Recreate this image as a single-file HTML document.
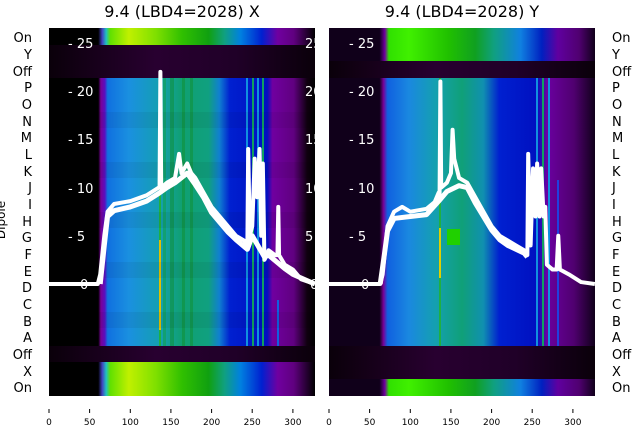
<!DOCTYPE html>
<html><head><style>
html,body{margin:0;padding:0;background:#fff;width:640px;height:440px;overflow:hidden}
svg{font-family:"DejaVu Sans","Liberation Sans",sans-serif}
</style></head><body>
<svg width="640" height="440" viewBox="0 0 640 440" xmlns="http://www.w3.org/2000/svg">
<defs>
<linearGradient id="mainL" x1="0" x2="1">
<stop offset="0" stop-color="#000"/><stop offset="0.185" stop-color="#000"/>
<stop offset="0.195" stop-color="#7a0098"/><stop offset="0.21" stop-color="#5a10c0"/>
<stop offset="0.22" stop-color="#1070e0"/><stop offset="0.3" stop-color="#1a90e0"/>
<stop offset="0.42" stop-color="#14a0b0"/><stop offset="0.5" stop-color="#10a070"/>
<stop offset="0.6" stop-color="#10a080"/><stop offset="0.64" stop-color="#1080d0"/>
<stop offset="0.68" stop-color="#0020d0"/><stop offset="0.82" stop-color="#0010c0"/>
<stop offset="0.84" stop-color="#7000a0"/><stop offset="0.92" stop-color="#600080"/>
<stop offset="0.97" stop-color="#100010"/><stop offset="1" stop-color="#000"/>
</linearGradient>
<linearGradient id="mainR" x1="0" x2="1">
<stop offset="0" stop-color="#10001a"/><stop offset="0.19" stop-color="#10001a"/>
<stop offset="0.205" stop-color="#7a0098"/><stop offset="0.22" stop-color="#1060e0"/>
<stop offset="0.3" stop-color="#1a88e0"/><stop offset="0.4" stop-color="#14a0b0"/>
<stop offset="0.5" stop-color="#10a078"/><stop offset="0.58" stop-color="#1090b0"/>
<stop offset="0.64" stop-color="#0020d0"/><stop offset="0.78" stop-color="#0010c0"/>
<stop offset="0.82" stop-color="#6a00a0"/><stop offset="0.92" stop-color="#500070"/>
<stop offset="1" stop-color="#10001a"/>
</linearGradient>
<linearGradient id="onG" x1="0" x2="1">
<stop offset="0" stop-color="#000"/><stop offset="0.185" stop-color="#000"/>
<stop offset="0.2" stop-color="#4040c0"/><stop offset="0.215" stop-color="#20c0c0"/>
<stop offset="0.23" stop-color="#60e000"/><stop offset="0.3" stop-color="#c0f000"/>
<stop offset="0.4" stop-color="#80e000"/><stop offset="0.5" stop-color="#30c000"/>
<stop offset="0.6" stop-color="#10a010"/><stop offset="0.66" stop-color="#10a080"/>
<stop offset="0.72" stop-color="#0080e0"/><stop offset="0.8" stop-color="#0020d0"/>
<stop offset="0.86" stop-color="#7000a0"/><stop offset="0.92" stop-color="#600080"/>
<stop offset="1" stop-color="#000"/>
</linearGradient>
<linearGradient id="onR" x1="0" x2="1">
<stop offset="0" stop-color="#10001a"/><stop offset="0.19" stop-color="#10001a"/>
<stop offset="0.21" stop-color="#7000a0"/><stop offset="0.225" stop-color="#30e000"/>
<stop offset="0.3" stop-color="#40f000"/><stop offset="0.45" stop-color="#20c000"/>
<stop offset="0.55" stop-color="#10a020"/><stop offset="0.62" stop-color="#10a080"/>
<stop offset="0.72" stop-color="#1080e0"/><stop offset="0.8" stop-color="#0020c0"/>
<stop offset="0.86" stop-color="#6000a0"/><stop offset="0.94" stop-color="#500070"/>
<stop offset="1" stop-color="#10001a"/>
</linearGradient>
<linearGradient id="offG" x1="0" x2="1">
<stop offset="0" stop-color="#0a000a"/><stop offset="0.4" stop-color="#280030"/>
<stop offset="0.7" stop-color="#200028"/><stop offset="1" stop-color="#0a000a"/>
</linearGradient>
<clipPath id="cL"><rect x="49" y="28" width="266" height="368"/></clipPath>
<clipPath id="cR"><rect x="329" y="28" width="266" height="368"/></clipPath>
</defs>

<g clip-path="url(#cL)">
<rect x="49" y="28" width="266" height="368" fill="#000"/>
<rect x="49" y="28" width="266" height="17" fill="url(#onG)"/>
<rect x="49" y="45" width="266" height="33" fill="url(#offG)"/>
<rect x="49" y="78" width="266" height="268" fill="url(#mainL)"/>
<rect x="49" y="346" width="266" height="16" fill="url(#offG)"/>
<rect x="49" y="362" width="266" height="34" fill="url(#onG)"/>
<g opacity="0.5">
<rect x="163" y="78" width="3" height="268" fill="#10a040"/>
<rect x="170" y="78" width="4" height="268" fill="#109030"/>
<rect x="182" y="78" width="3" height="268" fill="#109030"/>
<rect x="190" y="78" width="3" height="268" fill="#109030"/>
</g>
<rect x="159" y="78" width="2" height="268" fill="#20b040"/>
<rect x="159" y="240" width="2" height="90" fill="#e0c000"/>
<rect x="246" y="78" width="2" height="268" fill="#1090e0"/>
<rect x="252" y="78" width="2" height="268" fill="#10a060"/>
<rect x="257" y="78" width="2" height="268" fill="#1090e0"/>
<rect x="262" y="78" width="2" height="268" fill="#10a060"/>
<rect x="277" y="300" width="2" height="46" fill="#1060e0"/>
<g fill="#000" opacity="0.05">
<rect x="49" y="112" width="266" height="16"/><rect x="49" y="162" width="266" height="16"/>
<rect x="49" y="212" width="266" height="16"/><rect x="49" y="262" width="266" height="16"/>
<rect x="49" y="312" width="266" height="16"/>
</g>
<g fill="#fff" font-size="13">
<text x="68" y="48">- 25</text><text x="68" y="96">- 20</text><text x="68" y="144">- 15</text>
<text x="68" y="193">- 10</text><text x="68" y="241">- 5</text><text x="80" y="289">0</text>
<text x="305" y="48">25</text><text x="305" y="96">20</text><text x="305" y="144">15</text>
<text x="305" y="193">10</text><text x="305" y="241">5</text><text x="310" y="289">0</text>
</g>
<g transform="translate(49,284) scale(0.813,-9.64)" fill="none" stroke="#fff" stroke-linejoin="round">
<polyline vector-effect="non-scaling-stroke" stroke-width="4" points="0,0 60,0 63,1 68,5 72,7.5 80,8.3 100,8.6 120,9.2 135,10 136,10 137,22 138,10 145,10.5 155,11 160,13.5 163,11.5 170,12.5 175,11.5 180,11 190,9.5 200,8 210,7 220,6 230,5 240,4.5 244,4 245,14 247,5 250,6 253,13 256,9 259,14 261,5 263,12.5 265,2.5 268,3 270,3.5 278,3 281,3 282,8 283,3 290,2 300,1.5 310,0.5 327,0"/>
<polyline vector-effect="non-scaling-stroke" stroke-width="5" points="63,0 68,4 72,7 80,7.6 100,8 120,8.6 135,9.4 145,10 155,10.5 170,11.5 180,10.3 190,9 200,7.4 210,6.4 220,5.4 230,4.6 244,3.6 250,5 265,2.8 270,3 290,1.6 300,1 327,0"/>
</g>
</g>

<g clip-path="url(#cR)">
<rect x="329" y="28" width="266" height="368" fill="#10001a"/>
<rect x="329" y="28" width="266" height="33" fill="url(#onR)"/>
<rect x="329" y="61" width="266" height="17" fill="url(#offG)"/>
<rect x="329" y="78" width="266" height="268" fill="url(#mainR)"/>
<rect x="329" y="346" width="266" height="33" fill="url(#offG)"/>
<rect x="329" y="379" width="266" height="17" fill="url(#onR)"/>
<rect x="439" y="78" width="2" height="268" fill="#20b040"/>
<rect x="439" y="228" width="2" height="50" fill="#e0d000"/>
<rect x="447" y="229" width="13" height="16" fill="#20d000"/>
<rect x="536" y="78" width="2" height="268" fill="#1090e0"/>
<rect x="542" y="78" width="2" height="268" fill="#10a060"/>
<rect x="548" y="78" width="2" height="268" fill="#1090e0"/>
<rect x="557" y="180" width="2" height="166" fill="#2040e0"/>
<g fill="#fff" font-size="13">
<text x="349" y="48">- 25</text><text x="349" y="96">- 20</text><text x="349" y="144">- 15</text>
<text x="349" y="193">- 10</text><text x="349" y="241">- 5</text><text x="361" y="289">0</text>
</g>
<g transform="translate(329,284) scale(0.813,-9.64)" fill="none" stroke="#fff" stroke-linejoin="round">
<polyline vector-effect="non-scaling-stroke" stroke-width="4" points="0,0 63,0 66,1 72,6 80,7.5 90,8 100,7.5 120,7.8 130,8.5 135,9.5 136,9 137,21 138,10 145,10.5 150,11.5 152,16 154,13 157,12 160,11 170,10.5 180,9 190,7.5 200,6 210,5 220,4.5 230,4 240,3.5 244,3 245,13.5 248,4 251,12 254,7 256,12.5 259,7 261,12 264,7 266,8 268,2 275,1.5 280,1.5 282,5 284,1.5 295,1 310,0.2 327,0"/>
<polyline vector-effect="non-scaling-stroke" stroke-width="5" points="63,0 68,3 72,5.5 80,6.8 100,7 120,7.2 135,8.6 145,9.6 160,10.2 170,10 180,8.4 190,7 200,5.6 210,4.6 220,4 240,3.2 244,2.8"/>
</g>
</g>

<text x="182" y="17" font-size="16" text-anchor="middle" fill="#000">9.4 (LBD4=2028) X</text>
<text x="462" y="17" font-size="16" text-anchor="middle" fill="#000">9.4 (LBD4=2028) Y</text>

<g font-size="13" fill="#000">
<g text-anchor="end">
<text x="32" y="42">On</text><text x="32" y="59">Y</text><text x="32" y="76">Off</text>
<text x="32" y="92">P</text><text x="32" y="109">O</text><text x="32" y="126">N</text>
<text x="32" y="142">M</text><text x="32" y="159">L</text><text x="32" y="176">K</text>
<text x="32" y="192">J</text><text x="32" y="209">I</text><text x="32" y="226">H</text>
<text x="32" y="242">G</text><text x="32" y="259">F</text><text x="32" y="276">E</text>
<text x="32" y="292">D</text><text x="32" y="309">C</text><text x="32" y="326">B</text>
<text x="32" y="342">A</text><text x="32" y="359">Off</text><text x="32" y="376">X</text>
<text x="32" y="392">On</text>
</g>
<g>
<text x="612" y="42">On</text><text x="612" y="59">Y</text><text x="612" y="76">Off</text>
<text x="612" y="92">P</text><text x="612" y="109">O</text><text x="612" y="126">N</text>
<text x="612" y="142">M</text><text x="612" y="159">L</text><text x="612" y="176">K</text>
<text x="612" y="192">J</text><text x="612" y="209">I</text><text x="612" y="226">H</text>
<text x="612" y="242">G</text><text x="612" y="259">F</text><text x="612" y="276">E</text>
<text x="612" y="292">D</text><text x="612" y="309">C</text><text x="612" y="326">B</text>
<text x="612" y="342">A</text><text x="612" y="359">Off</text><text x="612" y="376">X</text>
<text x="612" y="392">On</text>
</g>
<text transform="translate(5,220) rotate(-90)" text-anchor="middle" font-size="12">Dipole</text>
</g>

<g stroke="#000" stroke-width="1">
<line x1="49" y1="409" x2="49" y2="413"/><line x1="89.6" y1="409" x2="89.6" y2="413"/>
<line x1="130.3" y1="409" x2="130.3" y2="413"/><line x1="170.9" y1="409" x2="170.9" y2="413"/>
<line x1="211.6" y1="409" x2="211.6" y2="413"/><line x1="252.2" y1="409" x2="252.2" y2="413"/>
<line x1="292.9" y1="409" x2="292.9" y2="413"/>
<line x1="329" y1="409" x2="329" y2="413"/><line x1="369.6" y1="409" x2="369.6" y2="413"/>
<line x1="410.3" y1="409" x2="410.3" y2="413"/><line x1="450.9" y1="409" x2="450.9" y2="413"/>
<line x1="491.6" y1="409" x2="491.6" y2="413"/><line x1="532.2" y1="409" x2="532.2" y2="413"/>
<line x1="572.9" y1="409" x2="572.9" y2="413"/>
</g>
<g font-size="9" fill="#000" text-anchor="middle">
<text x="49" y="425">0</text><text x="89.6" y="425">50</text><text x="130.3" y="425">100</text>
<text x="170.9" y="425">150</text><text x="211.6" y="425">200</text><text x="252.2" y="425">250</text>
<text x="292.9" y="425">300</text>
<text x="329" y="425">0</text><text x="369.6" y="425">50</text><text x="410.3" y="425">100</text>
<text x="450.9" y="425">150</text><text x="491.6" y="425">200</text><text x="532.2" y="425">250</text>
<text x="572.9" y="425">300</text>
</g>
</svg>
</body></html>
